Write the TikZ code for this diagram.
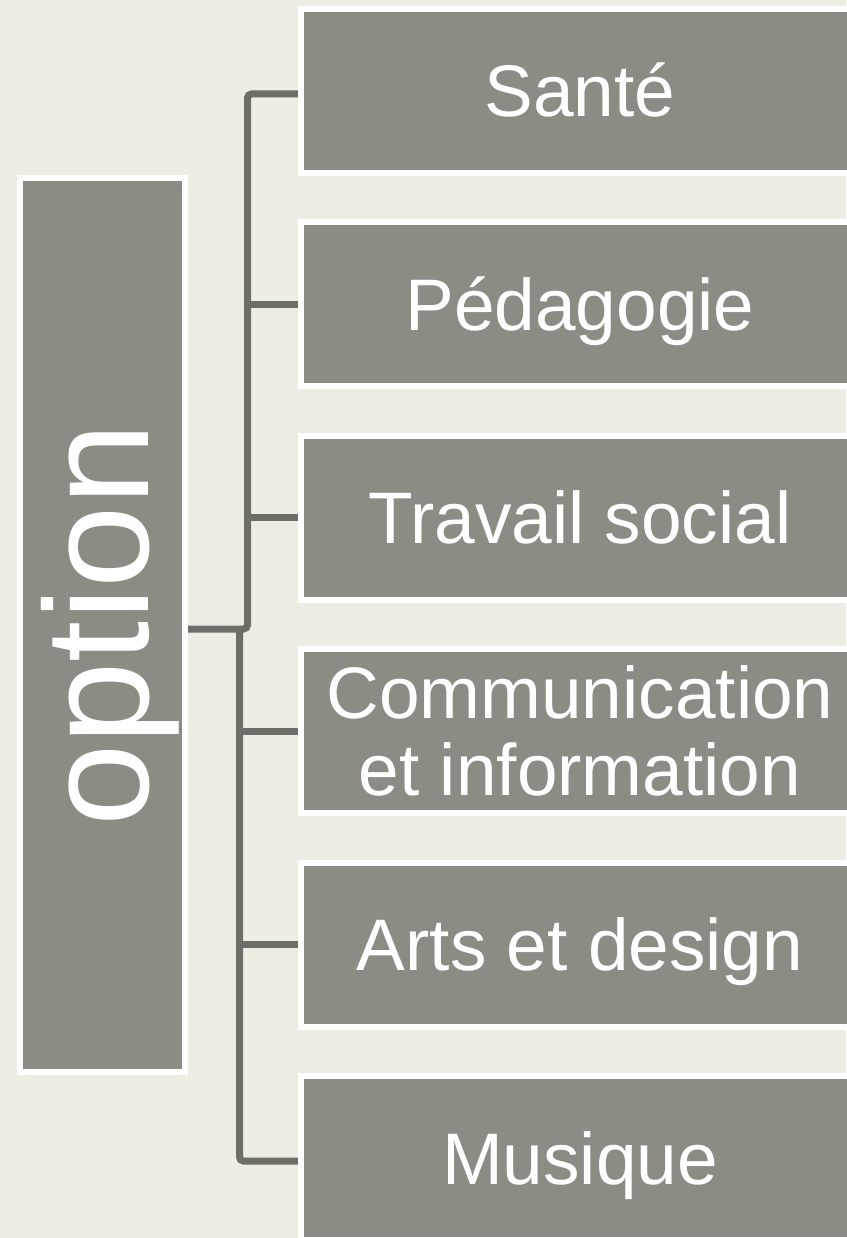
\documentclass[tikz,border=0pt]{standalone}
\usepackage{fontspec}
\setmainfont{Liberation Sans}
\definecolor{bgcol}{HTML}{EFECE4}
\definecolor{boxfill}{HTML}{8C8C85}
\definecolor{conncol}{HTML}{6E6E68}
\begin{document}
\begin{tikzpicture}[x=1pt,y=1pt,
  optbox/.style={draw=white, line width=6pt, fill=boxfill, inner sep=0pt, outer sep=0pt},
  box/.style={optbox, text=white, minimum width=558pt, minimum height=164pt,
    font=\fontsize{73}{77}\selectfont, align=center, text height=52pt, text depth=0pt},
  conn/.style={draw=conncol, line width=7pt, rounded corners=4pt}]
\useasboundingbox (0,0) rectangle (846,-1238);
\fill[bgcol] (0,0) rectangle (846,-1238);
\coordinate (j) at (247.5,-629);
\coordinate (k) at (239.5,-629);
\path (580,-91) coordinate (c1) (580,-304.4) coordinate (c2) (580,-517.8) coordinate (c3)
      (580,-731.2) coordinate (c4) (580,-944.6) coordinate (c5) (580,-1158) coordinate (c6);
% boxes
\node[box] (b1) at (c1) {Santé};
\node[box] (b2) at (c2) {Pédagogie};
\node[box] (b3) at (c3) {Travail social};
\node[box, text height=129pt] (b4) at (c4) {Communication\\et information};
\node[box] (b5) at (c5) {Arts et design};
\node[box] (b6) at (c6) {Musique};
\node[optbox, minimum width=165pt, minimum height=894pt] (opt) at (102.5,-625) {};
% connectors
\draw[conn] (opt.east |- j) -- (j) |- ([yshift=-3pt]b1.west);
\draw[conn] (k) |- ([yshift=-3pt]b6.west);
\draw[conn] (j |- b2.west) -- (b2.west);
\draw[conn] (j |- b3.west) -- (b3.west);
\draw[conn] (k |- b4.west) -- (b4.west);
\draw[conn] (k |- b5.west) -- (b5.west);
% redraw borders over connector ends
\foreach \n in {b1,b2,b3,b4,b5,b6,opt}{
  \draw[white, line width=6pt] (\n.south west) rectangle (\n.north east);
}
\node[text=white, rotate=90, inner sep=0pt, font=\fontsize{148}{148}\selectfont,
  text height=122pt, text depth=31pt] (optlbl) at (opt.center) {option};
\end{tikzpicture}
\end{document}
